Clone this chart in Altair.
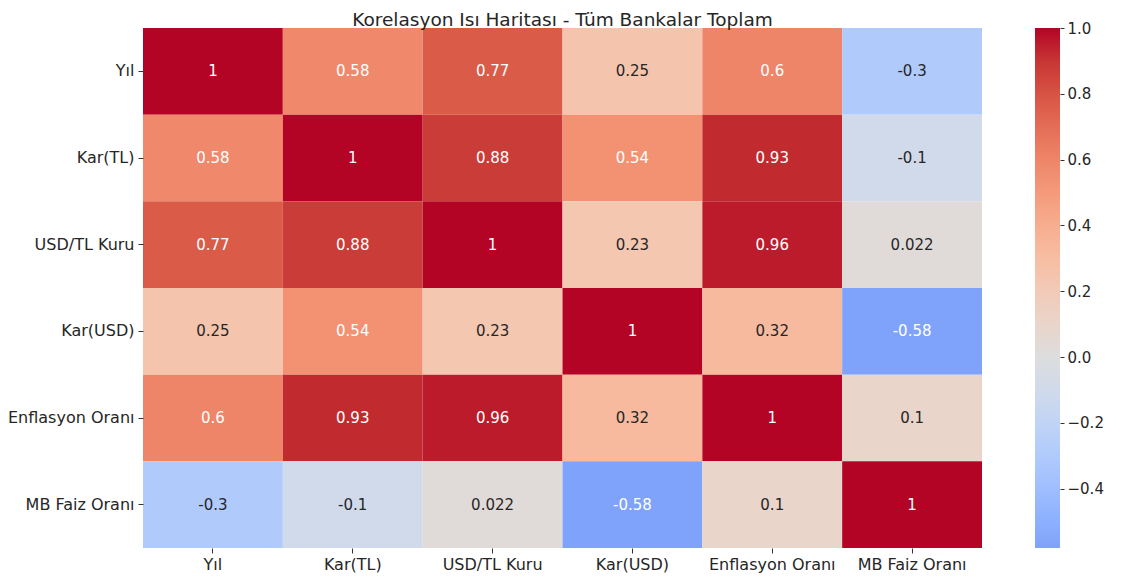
import altair as alt
import pandas as pd

labels = ["Yıl", "Kar(TL)", "USD/TL Kuru", "Kar(USD)", "Enflasyon Oranı", "MB Faiz Oranı"]
row_yil = [1, 0.58, 0.77, 0.25, 0.6, -0.3]
row_kar_tl = [0.58, 1, 0.88, 0.54, 0.93, -0.1]
row_usd_tl = [0.77, 0.88, 1, 0.23, 0.96, 0.022]
row_kar_usd = [0.25, 0.54, 0.23, 1, 0.32, -0.58]
row_enflasyon = [0.6, 0.93, 0.96, 0.32, 1, 0.1]
row_mb_faiz = [-0.3, -0.1, 0.022, -0.58, 0.1, 1]
matrix = [row_yil, row_kar_tl, row_usd_tl, row_kar_usd, row_enflasyon, row_mb_faiz]

legend_ticks = [1.0, 0.8, 0.6, 0.4, 0.2, 0.0, -0.2, -0.4]
value_min = -0.58
value_max = 1.0

# coolwarm colour stops (centred at 0), domain clipped at data minimum
color_domain = [-0.58, -0.5625, -0.5, -0.4375, -0.375, -0.3125, -0.25, -0.1875, -0.125, -0.0625,
                0.0, 0.0625, 0.125, 0.1875, 0.25, 0.3125, 0.375, 0.4375, 0.5, 0.5625, 0.625,
                0.6875, 0.75, 0.8125, 0.875, 0.9375, 1.0]
color_range = ["#7fa2fa", "#82a5fb", "#8db0fe", "#98b9ff", "#a3c2ff", "#aec9fd", "#b8d0f9", "#c2d5f4",
               "#ccd9ee", "#d5dbe6", "#dddddd", "#e5d8d1", "#ecd3c5", "#f1ccb9", "#f5c4ad", "#f7bba0",
               "#f7b194", "#f7a687", "#f49a7b", "#f18d6f", "#ec7f63", "#e57058", "#de604d", "#d55042",
               "#cb3e38", "#c0282f", "#b40426"]

rows = []
for i, rname in enumerate(labels):
    for j, cname in enumerate(labels):
        v = matrix[i][j]
        rows.append({"row": rname, "col": cname, "value": v, "label": format(v, ".2g")})
df = pd.DataFrame(rows)
ticks_df = pd.DataFrame({"tick": legend_ticks})

FONT = "DejaVu Sans"
TXT = "#262626"

base = alt.Chart(df).encode(
    x=alt.X("col:N", sort=labels, title=None,
            scale=alt.Scale(paddingInner=0, paddingOuter=0),
            axis=alt.Axis(orient="bottom", labelAngle=0, domain=False, ticks=True, tickSize=5,
                          tickColor="#333333", labelFontSize=16, labelColor=TXT,
                          labelPadding=3, labelFont=FONT)),
    y=alt.Y("row:N", sort=labels, title=None,
            scale=alt.Scale(paddingInner=0, paddingOuter=0),
            axis=alt.Axis(orient="left", domain=False, ticks=True, tickSize=5,
                          tickColor="#333333", labelFontSize=16, labelColor=TXT,
                          labelPadding=4, labelFont=FONT)),
)

rect = base.mark_rect().encode(
    color=alt.Color("value:Q",
                    scale=alt.Scale(type="linear", domain=color_domain, range=color_range,
                                    interpolate="rgb"),
                    legend=alt.Legend(title=None, orient="none", legendX=892, legendY=0,
                                      direction="vertical", gradientLength=520,
                                      gradientThickness=25, labelExpr="''",
                                      values=[value_max], gradientStrokeWidth=0))
)

text = base.mark_text(fontSize=15, font=FONT).encode(
    text="label:N",
    color=alt.condition("abs(datum.value) > 0.5", alt.value("#ffffff"), alt.value(TXT)),
)

heatmap = alt.layer(rect, text)

# colour-bar tick marks and labels, drawn as an axis beside the gradient
cbar_axis = alt.Chart(ticks_df).mark_point(opacity=0).encode(
    y=alt.Y("tick:Q", title=None,
            scale=alt.Scale(domain=[value_min, value_max], nice=False, zero=False),
            axis=alt.Axis(orient="right", offset=78, values=legend_ticks, format=".1f",
                          domain=False, grid=False, ticks=True, tickSize=4, tickColor="#333333",
                          labelFontSize=15, labelColor=TXT, labelFont=FONT, labelPadding=3,
                          labelBaseline="middle", labelFlush=False))
)

chart = alt.layer(heatmap, cbar_axis).resolve_scale(y="independent").resolve_axis(
    y="independent"
).properties(
    width=839,
    height=520,
    title=alt.TitleParams("Korelasyon Isı Haritası - Tüm Bankalar Toplam", fontSize=18.5,
                          fontWeight="normal", font=FONT, color=TXT, anchor="middle",
                          offset=1, dy=9),
    padding={"left": 135, "top": 20, "right": 130, "bottom": 28},
    autosize=alt.AutoSizeParams(type="none"),
).configure_view(stroke=None)

chart.save("out.html", embed_options={"renderer": "svg", "actions": False})
